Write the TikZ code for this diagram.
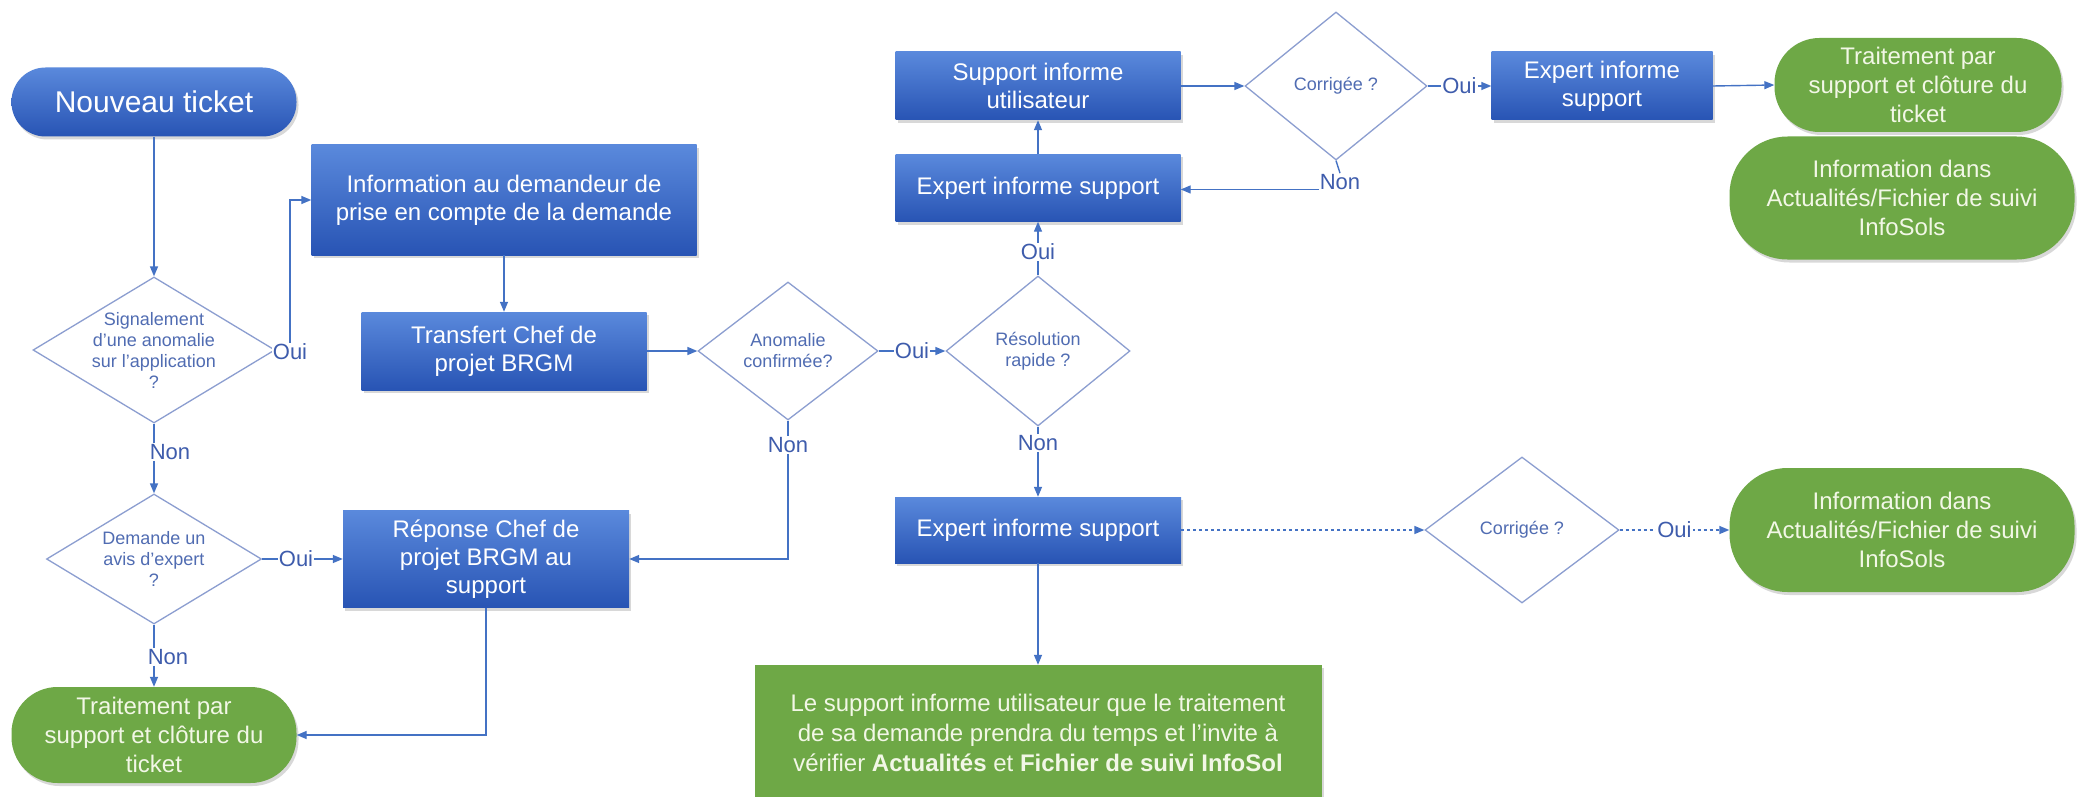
\documentclass[tikz,border=0pt]{standalone}
\usepackage{fontspec}
\setmainfont{Liberation Sans}
\usetikzlibrary{shapes.geometric,shadows,arrows.meta}
\definecolor{boxtop}{RGB}{90,137,220}
\definecolor{boxbot}{RGB}{40,84,180}
\definecolor{okgreen}{RGB}{110,168,70}
\definecolor{greentext}{RGB}{242,247,230}
\definecolor{lineblue}{RGB}{68,114,196}
\definecolor{diaedge}{RGB}{140,158,208}
\definecolor{diatext}{RGB}{80,108,178}
\definecolor{lblblue}{RGB}{62,92,172}

\begin{document}
\begin{tikzpicture}
[x=1pt,y=-1pt,>={Triangle[length=10pt,width=8pt]},
 flow/.style={draw=lineblue,line width=1.4pt},
 bluebox/.style={rectangle,top color=boxtop,bottom color=boxbot,text=white,align=center,inner sep=0pt,
   font=\fontsize{24}{28}\selectfont,drop shadow={shadow xshift=2pt,shadow yshift=-3pt,opacity=.3}},
 greenbox/.style={rectangle,fill=okgreen,text=greentext,align=center,inner sep=0pt,
   font=\fontsize{24}{29}\selectfont,drop shadow={shadow xshift=2pt,shadow yshift=-3pt,opacity=.3}},
 decision/.style={diamond,draw=diaedge,line width=1.3pt,inner sep=0pt,fill=white},
 dtext/.style={text=diatext,align=center,font=\fontsize{18}{21}\selectfont},
 lbl/.style={fill=white,inner sep=1pt,text=lblblue,font=\fontsize{22}{24}\selectfont},
 dotline/.style={dash pattern=on 3pt off 3pt},
]

\path[use as bounding box,fill=white] (0,0) rectangle (2080,797);

%Left column
\node (NT) at (154,102)[bluebox,minimum width=285pt,minimum height=69pt,rounded corners=34pt,
  font=\fontsize{30}{34}\selectfont] {Nouveau ticket};
\node (S1) at (154,350)[decision,minimum width=242pt,minimum height=146pt,
  label={[dtext]center:Signalement\\d'une anomalie\\sur l'application\\?}] {};
\node (D2) at (154,559)[decision,minimum width=215pt,minimum height=130pt,
  label={[dtext]center:Demande un\\avis d'expert\\?}] {};
\node (TP2) at (154,735)[greenbox,minimum width=285pt,minimum height=96pt,rounded corners=46pt] {Traitement par\\support et clôture du\\ticket};

%Middle boxes
\node (IA) at (504,200)[bluebox,minimum width=385pt,minimum height=110pt] {Information au demandeur de\\prise en compte de la demande};
\node (TC) at (504,351)[bluebox,minimum width=285pt,minimum height=78pt] {Transfert Chef de\\projet BRGM};
\node (RC) at (486,559)[bluebox,minimum width=286pt,minimum height=97pt] {Réponse Chef de\\projet BRGM au\\support};
\node (AC) at (788,351)[decision,minimum width=180pt,minimum height=138pt,
  label={[dtext]center:Anomalie\\confirmée?}] {};
\node (RR) at (1038,351)[decision,minimum width=184pt,minimum height=150pt,
  label={[dtext]center:Résolution\\rapide ?}] {};

%Expert column
\node (SU) at (1038,86)[bluebox,minimum width=285pt,minimum height=68pt] {Support informe\\utilisateur};
\node (EA) at (1038,188)[bluebox,minimum width=285pt,minimum height=67pt] {Expert informe support};
\node (EC) at (1038,530)[bluebox,minimum width=286pt,minimum height=66pt] {Expert informe support};
\node (LS) at (1038,733)[greenbox,minimum width=567pt,minimum height=136pt,font=\fontsize{24}{30}\selectfont]
  {Le support informe utilisateur que le traitement\\de sa demande prendra du temps et l’invite à\\vérifier \textbf{Actualités} et \textbf{Fichier de suivi InfoSol}};

%Right side
\node (C1) at (1336,86)[decision,minimum width=182pt,minimum height=148pt,
  label={[dtext]center:Corrigée ?}] {};
\node (EB) at (1602,86)[bluebox,minimum width=221pt,minimum height=68pt] {Expert informe\\support};
\node (TP1) at (1918,85)[greenbox,minimum width=287pt,minimum height=94pt,rounded corners=45pt] {Traitement par\\support et clôture du\\ticket};
\node (IS1) at (1902,198)[greenbox,minimum width=345pt,minimum height=123pt,rounded corners=58pt] {Information dans\\Actualités/Fichier de suivi\\InfoSols};
\node (C2) at (1522,530)[decision,minimum width=194pt,minimum height=146pt,
  label={[dtext]center:Corrigée ?}] {};
\node (IS2) at (1902,530)[greenbox,minimum width=345pt,minimum height=124pt,rounded corners=58pt] {Information dans\\Actualités/Fichier de suivi\\InfoSols};

%Oui / Non labels
\node (O1) at (290,352)[lbl] {Oui};
\node (N1) at (170,452)[lbl] {Non};
\node (O2) at (296,559)[lbl] {Oui};
\node (N2) at (168,657)[lbl] {Non};
\node (NA) at (788,445)[lbl] {Non};
\node (OR) at (1038,252)[lbl] {Oui};
\node (NR) at (1038,443)[lbl] {Non};
\node (NC) at (1340,182)[lbl] {Non};

%Connectors
\draw[flow,->] (NT.south) -- (S1.north);
\draw[flow,->] (O1.north) |- (IA.west);
\draw[flow] (S1.south) -- (S1.south |- N1.north);
\draw[flow,->] (S1.south |- N1.south) -- (D2.north);
\draw[flow] (D2.east) -- (O2.west);
\draw[flow,->] (O2.east) -- (RC.west);
\draw[flow] (D2.south) -- (D2.south |- N2.north);
\draw[flow,->] (D2.south |- N2.south) -- (TP2.north);
\draw[flow,->] (RC.south) |- (TP2.east);
\draw[flow,->] (IA.south) -- (TC.north);
\draw[flow,->] (TC.east) -- (AC.west);
\draw[flow,->] (AC.east) -- node[lbl] {Oui} (RR.west);
\draw[flow] (AC.south) -- (NA.north);
\draw[flow,->] (NA.south) |- (RC.east);
\draw[flow] (RR.north) -- (OR.south);
\draw[flow,->] (OR.north) -- (EA.south);
\draw[flow] (RR.south) -- (NR.north);
\draw[flow,->] (NR.south) -- (EC.north);
\draw[flow,->] (EA.north) -- (SU.south);
\draw[flow,->] (SU.east) -- (C1.west);
\draw[flow,->] (C1.east) -- node[lbl] {Oui} (EB.west);
\draw[flow,->] (EB.east) -- (TP1.west);
\draw[flow] (C1.south) -- (NC.north);
\draw[flow,->] (NC.base west) -- (NC.base west -| EA.east);
\draw[flow,dotline,->] (EC.east) -- (C2.west);
\draw[flow,dotline,->] (C2.east) -- node[lbl] {Oui} (IS2.west);
\draw[flow,->] (EC.south) -- (LS.north);

\end{tikzpicture}
\end{document}
